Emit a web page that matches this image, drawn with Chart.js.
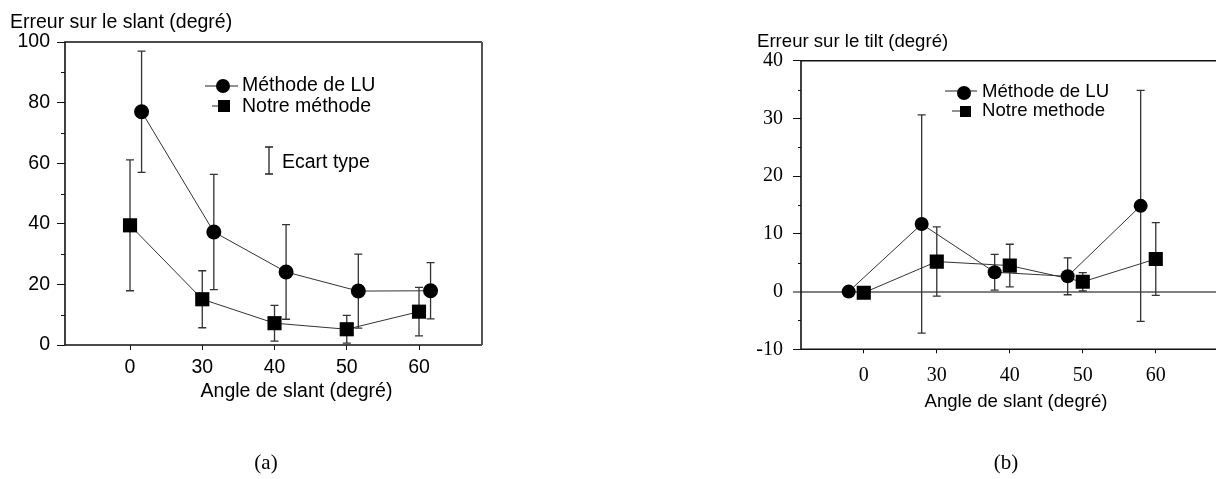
<!DOCTYPE html>
<html><head><meta charset="utf-8">
<script src="https://cdn.jsdelivr.net/npm/chart.js@4/dist/chart.umd.min.js"></script>
<style>
html,body{margin:0;padding:0;background:#fff;width:1226px;height:479px;overflow:hidden;position:relative}
canvas{position:absolute;top:0}
#ca{left:0}
#cb{left:740px}
.cap{position:absolute;font-family:"Liberation Serif",serif;font-size:21px;color:#000;transform:translateX(-50%);line-height:24px}
</style></head><body>
<canvas id="ca" width="500" height="479"></canvas>
<canvas id="cb" width="486" height="479"></canvas>
<div class="cap" style="left:266px;top:450px">(a)</div>
<div class="cap" style="left:1006px;top:450px">(b)</div>
<script>
// ---- data ----
const categories = ['0', '30', '40', '50', '60'];
const slantLU      = [77, 37.3, 24.1, 17.8, 17.9];
const slantLUErr   = [20, 19, 15.6, 12.2, 9.3];
const slantOurs    = [39.5, 15.1, 7.2, 5.2, 11];
const slantOursErr = [21.6, 9.4, 5.9, 4.6, 8];
const tiltLU       = [0, 11.7, 3.35, 2.65, 14.85];
const tiltLUErr    = [0, 18.9, 3.1, 3.2, 20];
const tiltOurs     = [-0.2, 5.2, 4.5, 1.7, 5.65];
const tiltOursErr  = [0, 6, 3.7, 1.6, 6.3];
const slantTicks = [0, 20, 40, 60, 80, 100];
const tiltTicks  = [-10, 0, 10, 20, 30, 40];

const SANS = '"Liberation Sans", Arial, sans-serif';
const SERIF = '"Liberation Serif", "Times New Roman", serif';

const pts = (vals, off) => vals.map((v, i) => ({x: i + off, y: v}));

// error bars
const errPlugin = {
  id: 'errbars',
  beforeDatasetsDraw(chart) {
    const ctx = chart.ctx, ys = chart.scales.y;
    ctx.save();
    ctx.strokeStyle = '#333'; ctx.lineWidth = 1.3;
    chart.data.datasets.forEach((ds, di) => {
      const meta = chart.getDatasetMeta(di);
      meta.data.forEach((pt, i) => {
        const e = ds.errors[i]; if (!e) return;
        const v = ds.data[i].y;
        const yt = ys.getPixelForValue(v + e), yb = ys.getPixelForValue(v - e);
        const c = 4;
        ctx.beginPath();
        ctx.moveTo(pt.x, yt); ctx.lineTo(pt.x, yb);
        ctx.moveTo(pt.x - c, yt); ctx.lineTo(pt.x + c, yt);
        ctx.moveTo(pt.x - c, yb); ctx.lineTo(pt.x + c, yb);
        ctx.stroke();
      });
    });
    ctx.restore();
  }
};

// frame, minor ticks, texts, legend
const decoPlugin = {
  id: 'deco',
  afterDraw(chart, args, o) {
    const ctx = chart.ctx, a = chart.chartArea, ys = chart.scales.y;
    ctx.save();
    ctx.strokeStyle = '#111'; ctx.lineWidth = 1.6;
    ctx.beginPath();
    ctx.moveTo(a.right, a.top); ctx.lineTo(a.left, a.top); ctx.lineTo(a.left, a.bottom); ctx.lineTo(a.right, a.bottom);
    ctx.stroke();
    if (o.rightBorder) {
      ctx.strokeStyle = '#555'; ctx.lineWidth = 2;
      ctx.beginPath(); ctx.moveTo(a.right, a.top); ctx.lineTo(a.right, a.bottom); ctx.stroke();
    }
    // minor ticks
    ctx.strokeStyle = '#111'; ctx.lineWidth = 1;
    o.minor.forEach(v => {
      const y = Math.round(ys.getPixelForValue(v)) + 0.5;
      ctx.beginPath(); ctx.moveTo(a.left - o.minorLen, y); ctx.lineTo(a.left, y); ctx.stroke();
    });
    // texts
    ctx.fillStyle = '#000'; ctx.textBaseline = 'alphabetic';
    o.texts.forEach(t => {
      ctx.font = t.font; ctx.textAlign = t.align || 'left';
      ctx.fillText(t.text, t.x, t.y);
    });
    // legend
    const L = o.legend;
    ctx.strokeStyle = '#222'; ctx.lineWidth = 1;
    ctx.beginPath(); ctx.moveTo(L.l1[0], L.l1[2]); ctx.lineTo(L.l1[1], L.l1[2]); ctx.stroke();
    ctx.beginPath(); ctx.arc(L.c[0], L.c[1], L.c[2], 0, Math.PI * 2); ctx.fillStyle = '#000'; ctx.fill();
    ctx.beginPath(); ctx.moveTo(L.l2[0], L.l2[2]); ctx.lineTo(L.l2[1], L.l2[2]); ctx.stroke();
    ctx.fillRect(L.s[0] - L.s[2] / 2, L.s[1] - L.s[2] / 2, L.s[2], L.s[2]);
    if (L.eb) {
      ctx.strokeStyle = '#222'; ctx.lineWidth = 1.3;
      ctx.beginPath();
      ctx.moveTo(L.eb[0], L.eb[1]); ctx.lineTo(L.eb[0], L.eb[2]);
      ctx.moveTo(L.eb[0] - 4, L.eb[1]); ctx.lineTo(L.eb[0] + 4, L.eb[1]);
      ctx.moveTo(L.eb[0] - 4, L.eb[2]); ctx.lineTo(L.eb[0] + 4, L.eb[2]);
      ctx.stroke();
    }
    ctx.restore();
  }
};

function makeChart(id, cfg) {
  const xScale = {
    type: 'linear', min: cfg.xmin, max: cfg.xmax,
    afterBuildTicks: s => { s.ticks = categories.map((c, i) => ({value: i})); },
    afterFit: s => { s.height = 40; },
    ticks: {callback: v => categories[v], color: '#000', padding: cfg.xpad, autoSkip: false, maxRotation: 0,
            font: {family: cfg.tickFont, size: cfg.tickSize}},
    grid: {drawOnChartArea: false, tickLength: cfg.xTickLen, color: '#111', tickColor: '#111'},
    border: {display: false}
  };
  const yScale = {
    type: 'linear', min: cfg.yTicks[0], max: cfg.yTicks[cfg.yTicks.length - 1],
    afterBuildTicks: s => { s.ticks = cfg.yTicks.map(v => ({value: v})); },
    afterFit: s => { s.width = cfg.yWidth; },
    ticks: {color: '#000', padding: cfg.ypad, font: {family: cfg.tickFont, size: cfg.tickSize}},
    grid: cfg.zeroLine ? {
      drawOnChartArea: true, tickLength: 8, tickColor: '#111', tickWidth: 1,
      color: c => (c.tick && c.tick.value === 0) ? '#808080' : 'rgba(0,0,0,0)',
      lineWidth: c => (c.tick && c.tick.value === 0) ? 2 : 1
    } : {drawOnChartArea: false, tickLength: 8, color: '#111', tickColor: '#111'},
    border: {display: false}
  };
  return new Chart(document.getElementById(id), {
    type: 'line',
    data: {
      datasets: [
        {label: 'LU', data: pts(cfg.lu, cfg.luOff), errors: cfg.luErr, pointStyle: 'circle', pointRadius: cfg.circR,
         backgroundColor: '#000', pointBackgroundColor: '#000', pointBorderWidth: 0, borderColor: '#333', borderWidth: 1, tension: 0},
        {label: 'Ours', data: pts(cfg.ours, 0), errors: cfg.oursErr, pointStyle: 'rect', pointRadius: cfg.sqR,
         backgroundColor: '#000', pointBackgroundColor: '#000', pointBorderWidth: 0, borderColor: '#333', borderWidth: 1, tension: 0}
      ]
    },
    options: {
      responsive: false, animation: false, devicePixelRatio: 1,
      layout: {padding: cfg.padding},
      scales: {x: xScale, y: yScale},
      plugins: {legend: {display: false}, tooltip: {enabled: false}, deco: cfg.deco}
    },
    plugins: [errPlugin, decoPlugin]
  });
}

// (a) slant
makeChart('ca', {
  xmin: -0.9, xmax: 4.872, yTicks: slantTicks, yWidth: 65, ypad: 7, xpad: 6, xTickLen: 5,
  tickFont: SANS, tickSize: 19.5,
  lu: slantLU, luErr: slantLUErr, ours: slantOurs, oursErr: slantOursErr, luOff: 0.16,
  circR: 7.5, sqR: 10,
  padding: {left: 0, top: 42, right: 18, bottom: 479 - 345 - 40},
  deco: {
    rightBorder: true, minor: [10, 30, 50, 70, 90], minorLen: 4,
    texts: [
      {text: 'Erreur sur le slant (degré)', x: 10, y: 28, font: '19.5px ' + SANS},
      {text: 'Angle de slant (degré)', x: 296.5, y: 397, font: '19.5px ' + SANS, align: 'center'},
      {text: 'Méthode de LU', x: 242, y: 91, font: '19.5px ' + SANS},
      {text: 'Notre méthode', x: 242, y: 111.5, font: '19.5px ' + SANS},
      {text: 'Ecart type', x: 282, y: 168, font: '19.5px ' + SANS}
    ],
    legend: {l1: [205, 238, 86], c: [223, 86, 7], l2: [212, 224, 106], s: [224, 106, 12], eb: [269, 147, 174]}
  }
});

// (b) tilt
makeChart('cb', {
  xmin: -0.86, xmax: 4.825, yTicks: tiltTicks, yWidth: 61, ypad: 10, xpad: 10, xTickLen: 4,
  tickFont: SERIF, tickSize: 20, zeroLine: true,
  lu: tiltLU, luErr: tiltLUErr, ours: tiltOurs, oursErr: tiltOursErr, luOff: -0.207,
  circR: 7, sqR: 10,
  padding: {left: 0, top: 60.7, right: 0, bottom: 479 - 349.3 - 40},
  deco: {
    rightBorder: false, minor: [-5, 5, 15, 25, 35], minorLen: 3,
    texts: [
      {text: 'Erreur sur le tilt (degré)', x: 17, y: 46.5, font: '18.6px ' + SANS},
      {text: 'Angle de slant (degré)', x: 276, y: 406.5, font: '18.6px ' + SANS, align: 'center'},
      {text: 'Méthode de LU', x: 242, y: 97, font: '18.6px ' + SANS},
      {text: 'Notre methode', x: 242, y: 116, font: '18.6px ' + SANS}
    ],
    legend: {l1: [205, 237, 91], c: [224, 93, 7], l2: [212, 225, 111], s: [225.5, 111.5, 11]}
  }
});
</script>
</body></html>
